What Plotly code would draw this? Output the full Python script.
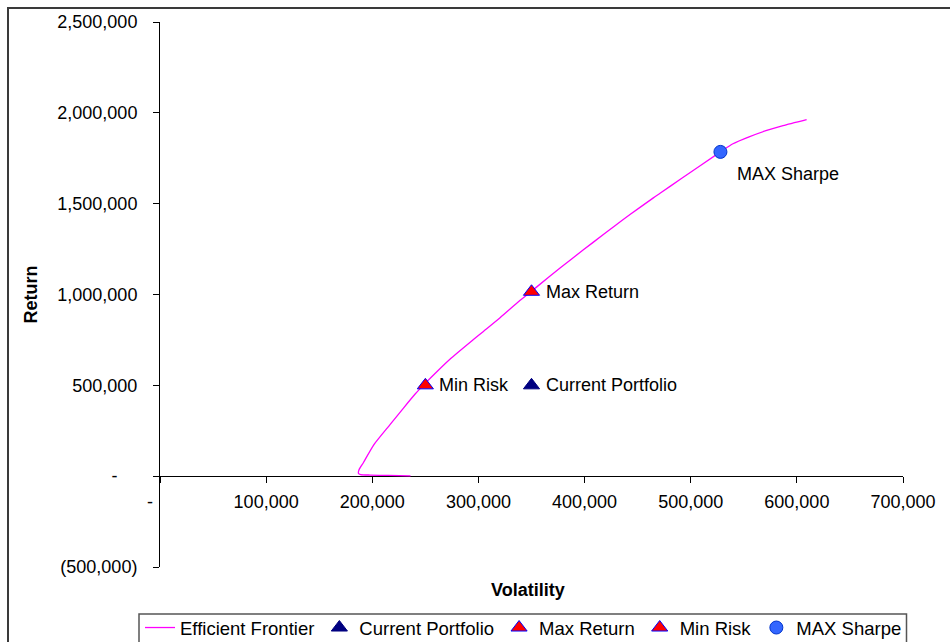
import plotly.graph_objects as go

# Efficient frontier (volatility vs. return)
frontier_vol = [236000, 215000, 198000, 189000, 187000, 187500, 191700, 201100,
                216900, 229400, 240400, 250000, 260800, 273400, 295300, 304700,
                320400, 339300, 355000, 376900, 398900, 417700, 427100, 442800,
                464800, 471100, 490900, 528000, 539800, 555000, 571600, 587000,
                609200]
frontier_ret = [2000, 4000, 6000, 9000, 15000, 35000, 75000, 170000,
                285000, 375000, 452000, 512000, 575000, 645000, 752000, 797000,
                872000, 968000, 1042000, 1146000, 1246000, 1330000, 1372000, 1440000,
                1532000, 1557000, 1637000, 1785000, 1830000, 1868000, 1903000, 1930000,
                1963000]

# Named portfolios
current_portfolio = (350000, 500000)
max_return = (350000, 1015000)
min_risk = (250000, 500000)
max_sharpe = (528000, 1785000)

# Axis ticks
x_tickvals = [0, 100000, 200000, 300000, 400000, 500000, 600000, 700000]
x_ticktext = ["-\u00a0\u00a0\u00a0\u00a0", "100,000", "200,000", "300,000",
              "400,000", "500,000", "600,000", "700,000"]
y_tickvals = [-500000, 0, 500000, 1000000, 1500000, 2000000, 2500000]
y_ticktext = ["(500,000)", "-\u00a0\u00a0\u00a0\u00a0", "500,000", "1,000,000",
              "1,500,000", "2,000,000", "2,500,000"]

FONT = "Liberation Sans, Arial, sans-serif"
W, H = 950, 642
ML, MR, MT, MB = 160, 47, 22, 75
PW, PH = W - ML - MR, H - MT - MB


def px_x(p):
    return (p - ML) / PW


def px_y(p):
    return (H - MB - p) / PH


fig = go.Figure()

fig.add_trace(go.Scatter(
    x=frontier_vol, y=frontier_ret, mode="lines", name="Efficient Frontier",
    line=dict(color="#FF00FF", width=1.3, shape="spline", smoothing=0.6),
    hoverinfo="skip",
))
fig.add_trace(go.Scatter(
    x=[current_portfolio[0]], y=[current_portfolio[1]], mode="markers",
    name="Current Portfolio",
    marker=dict(symbol="triangle-up", size=14, color="#000080",
                line=dict(color="#000080", width=1)),
))
fig.add_trace(go.Scatter(
    x=[max_return[0]], y=[max_return[1]], mode="markers", name="Max Return",
    marker=dict(symbol="triangle-up", size=14, color="#FF0000",
                line=dict(color="#0000FF", width=1)),
))
fig.add_trace(go.Scatter(
    x=[min_risk[0]], y=[min_risk[1]], mode="markers", name="Min Risk",
    marker=dict(symbol="triangle-up", size=14, color="#FF0000",
                line=dict(color="#0000FF", width=1)),
))
fig.add_trace(go.Scatter(
    x=[max_sharpe[0]], y=[max_sharpe[1]], mode="markers", name="MAX Sharpe",
    marker=dict(symbol="circle", size=13, color="#3366FF",
                line=dict(color="#0033CC", width=1)),
))

# Point labels
labels = [
    (min_risk, "Min Risk", 12, 0),
    (max_return, "Max Return", 12, 0),
    (current_portfolio, "Current Portfolio", 12, 0),
    (max_sharpe, "MAX Sharpe", 15, -22),
]
annotations = []
for (xv, yv), txt, dx, dy in labels:
    annotations.append(dict(
        x=xv, y=yv, xref="x", yref="y", text=txt, showarrow=False,
        xanchor="left", yanchor="middle", xshift=dx, yshift=dy,
        font=dict(family=FONT, size=18, color="#000000"),
    ))

# Axis titles
annotations.append(dict(
    x=px_x(30), y=0.5, xref="paper", yref="paper", text="<b>Return</b>",
    textangle=-90, showarrow=False, xanchor="center", yanchor="middle",
    font=dict(family=FONT, size=18, color="#000000"),
))
annotations.append(dict(
    x=px_x(528), y=px_y(590), xref="paper", yref="paper", text="<b>Volatility</b>",
    showarrow=False, xanchor="center", yanchor="middle",
    font=dict(family=FONT, size=18, color="#000000"),
))

shapes = [
    # Chart-area frame
    dict(type="rect", xref="paper", yref="paper",
         x0=px_x(8), x1=px_x(960), y0=px_y(660), y1=px_y(8),
         line=dict(color="#3a3a3a", width=2), fillcolor="rgba(0,0,0,0)",
         layer="below"),
    # Legend box
    dict(type="rect", xref="paper", yref="paper",
         x0=px_x(139), x1=px_x(906.5), y0=px_y(660), y1=px_y(614),
         line=dict(color="#555555", width=1.5), fillcolor="white",
         layer="below"),
]

y_min, y_max = -500000, 2500000

fig.update_layout(
    width=W, height=H,
    margin=dict(l=ML, r=MR, t=MT, b=MB, pad=0, autoexpand=False),
    paper_bgcolor="white", plot_bgcolor="white",
    font=dict(family=FONT, size=18, color="#000000"),
    showlegend=True,
    legend=dict(
        orientation="h", x=px_x(140), y=px_y(609), xanchor="left", yanchor="top",
        bgcolor="rgba(0,0,0,0)", borderwidth=0,
        font=dict(family=FONT, size=18.5, color="#000000"),
        itemwidth=30, tracegroupgap=0,
    ),
    xaxis=dict(
        range=[0, 700000], tickvals=x_tickvals, ticktext=x_ticktext,
        showgrid=False, zeroline=False, showline=True, linecolor="#000000",
        linewidth=1, ticks="outside", ticklen=6, tickcolor="#000000",
        anchor="free", position=(0 - y_min) / (y_max - y_min),
        ticklabelstandoff=3, layer="below traces",
        tickfont=dict(family=FONT, size=18, color="#000000"),
    ),
    yaxis=dict(
        range=[y_min, y_max], tickvals=y_tickvals, ticktext=y_ticktext,
        showgrid=False, zeroline=False, showline=True, linecolor="#000000",
        linewidth=1, ticks="outside", ticklen=6, tickcolor="#000000",
        ticklabelstandoff=12, layer="below traces",
        tickfont=dict(family=FONT, size=18, color="#000000"),
    ),
    annotations=annotations,
    shapes=shapes,
)

fig.write_html("out.html")
